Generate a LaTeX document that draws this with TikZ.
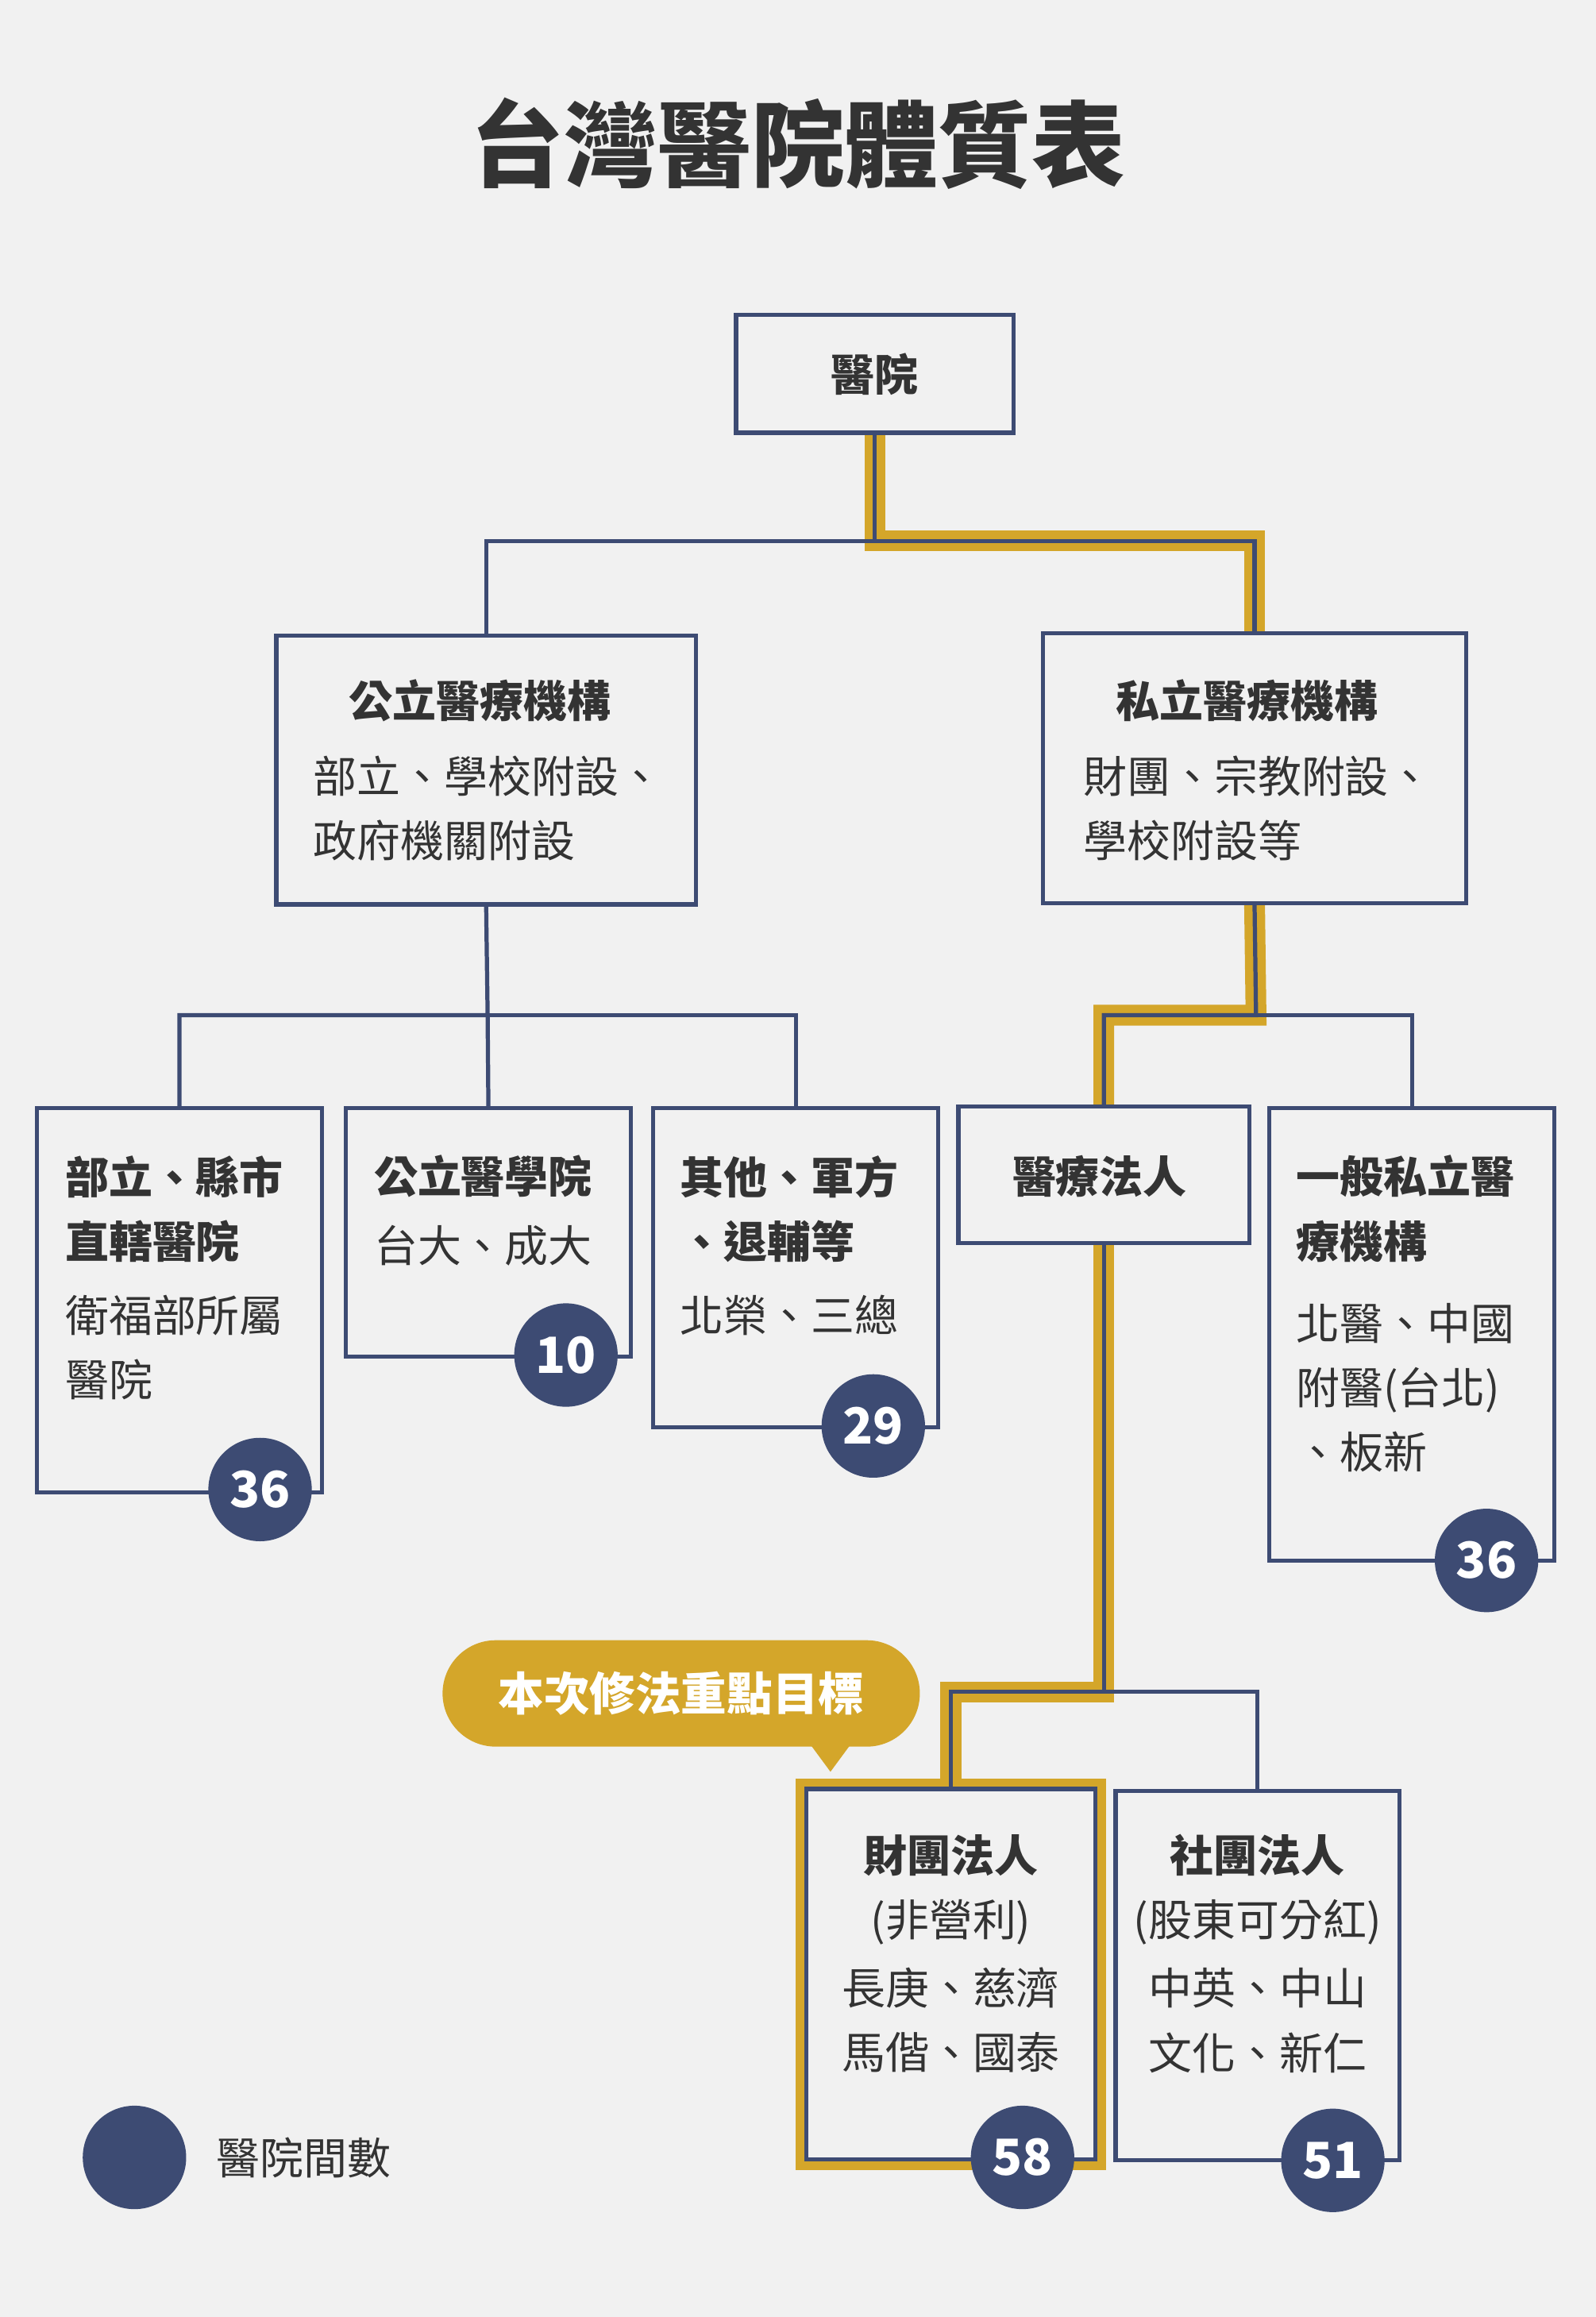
\documentclass[tikz,border=0pt]{standalone}
\usepackage{fontspec}
\setmainfont{Noto Sans CJK TC}
\usetikzlibrary{positioning}
\definecolor{navy}{HTML}{3D4B73}
\definecolor{gold}{HTML}{D4A62A}
\definecolor{ink}{HTML}{333333}
\definecolor{paper}{HTML}{F1F1F1}
\newcommand\bsize{\fontsize{42}{62}\selectfont}

\begin{document}
\begin{tikzpicture}[
    x=0.05cm, y=-0.05cm,
    box/.style={draw=navy, line width=4pt, fill=paper, inner sep=0pt},
    link/.style={draw=navy, line width=4pt},
    glow/.style={draw=gold, line width=20pt},
    txt/.style={anchor=west, inner sep=0pt, text=ink, font=\bsize, align=left},
    hd/.style={txt, font=\bsize\bfseries},
    count/.style={circle, fill=navy, minimum size=3.5cm, inner sep=0pt, text=white, font=\fontsize{48}{48}\selectfont\bfseries},
  ]

  \fill[paper] (0,0) rectangle (1080,1568);
  \useasboundingbox (0,0) rectangle (1080,1568);

  \node[text=ink, font=\fontsize{90}{90}\selectfont\bfseries] (title) at (540,97) {台灣醫院體質表};

  % boxes
  \node[box, minimum width=9.25cm, minimum height=3.85cm] (root) at (592,253) {};
  \node[box, minimum width=14.2cm, minimum height=9.1cm] (pub) at (329,521) {};
  \node[box, minimum width=14.2cm, minimum height=9cm] (pri) at (849,520) {};
  \node[box, minimum width=9.65cm, minimum height=13cm] (bu) at (121.5,880) {};
  \node[box, minimum width=9.65cm, minimum height=8.4cm] (med) at (330.5,834) {};
  \node[box, minimum width=9.65cm, minimum height=10.8cm] (oth) at (538.5,858) {};
  \node[box, minimum width=9.7cm, minimum height=4.5cm] (corp) at (747,795) {};
  \node[box, minimum width=9.65cm, minimum height=15.3cm] (gen) at (955.5,903) {};
  \node[box, minimum width=9.65cm, minimum height=12.4cm] (fnd) at (643.5,1336) {};
  \node[box, minimum width=9.6cm, minimum height=12.5cm] (soc) at (851,1337) {};

  \coordinate (j1) at (592,366);
  \coordinate (j2) at (330,687);
  \coordinate (j3) at (850,687);
  \coordinate (j4) at (747,1145);

  % highlighted route
  \draw[glow] (root.south) -- (j1) -| (pri.north);
  \draw[glow] (pri.south) -- (j3) -| (corp.north);
  \draw[glow] (corp.south) -- (j4) -| (fnd.north);
  \draw[glow] (fnd.south west) rectangle (fnd.north east);

  % connectors
  \draw[link] (root.south) -- (j1) -| (pub.north);
  \draw[link] (j1) -| (pri.north);
  \draw[link] (pub.south) -- (j2) -| (bu.north);
  \draw[link] (j2) -- (med.north);
  \draw[link] (j2) -| (oth.north);
  \draw[link] (pri.south) -- (j3) -| (corp.north);
  \draw[link] (j3) -| (gen.north);
  \draw[link] (corp.south) -- (j4) -| (fnd.north);
  \draw[link] (j4) -| (soc.north);

  % redraw boxes over the route
  \foreach \b in {root,pri,corp,fnd}
    \draw[navy, line width=4pt, fill=paper] (\b.south west) rectangle (\b.north east);

  % texts
  \node[text=ink, font=\bsize\bfseries] (roott) at (root) {醫院};
  \node[hd] (pubh) at (236,474) {公立醫療機構};
  \node[txt] (pubt) at (212,547) {部立、學校附設、\\政府機關附設};
  \node[hd] (prih) at (755,474) {私立醫療機構};
  \node[txt] (prit) at (733,547) {財團、宗教附設、\\學校附設等};
  \node[hd] (buh) at (44,818) {部立、縣市\\直轄醫院};
  \node[txt] (but) at (44,912) {衛福部所屬\\醫院};
  \node[hd] (medh) at (253,796) {公立醫學院};
  \node[txt] (medt) at (253,843) {台大、成大};
  \node[hd] (othh) at (460,818) {其他、軍方\\、退輔等};
  \node[txt] (otht) at (460,890) {北榮、三總};
  \node[hd] (corph) at (685,796) {醫療法人};
  \node[hd] (genh) at (877,818) {一般私立醫\\療機構};
  \node[txt] (gent) at (877,939) {北醫、中國\\附醫(台北)\\、板新};
  \node[text=ink, font=\bsize, align=center] (fndt) at (643.5,1322) {\textbf{財團法人}\\(非營利)\\[4pt]長庚、慈濟\\馬偕、國泰};
  \node[text=ink, font=\bsize, align=center] (soct) at (851,1322) {\textbf{社團法人}\\(股東可分紅)\\[4pt]中英、中山\\文化、新仁};

  % counts
  \node[count] (c1) at (176,1008) {36};
  \node[count] (c2) at (383,917) {10};
  \node[count] (c3) at (591,965) {29};
  \node[count] (c4) at (1006,1056) {36};
  \node[count] (c5) at (692,1460) {58};
  \node[count] (c6) at (902,1462) {51};

  % callout
  \fill[gold] (548,1180) -- (562,1199) -- (576,1180) -- cycle;
  \node[fill=gold, rounded corners=1.8cm, minimum width=16.15cm, minimum height=3.6cm, text=white, font=\fontsize{44}{44}\selectfont\bfseries] (note) at (461,1146) {本次修法重點目標};

  % legend
  \node[count] (key) at (91,1460) {};
  \node[txt, right=1.0cm of key] (keyt) {醫院間數};
\end{tikzpicture}
\end{document}
